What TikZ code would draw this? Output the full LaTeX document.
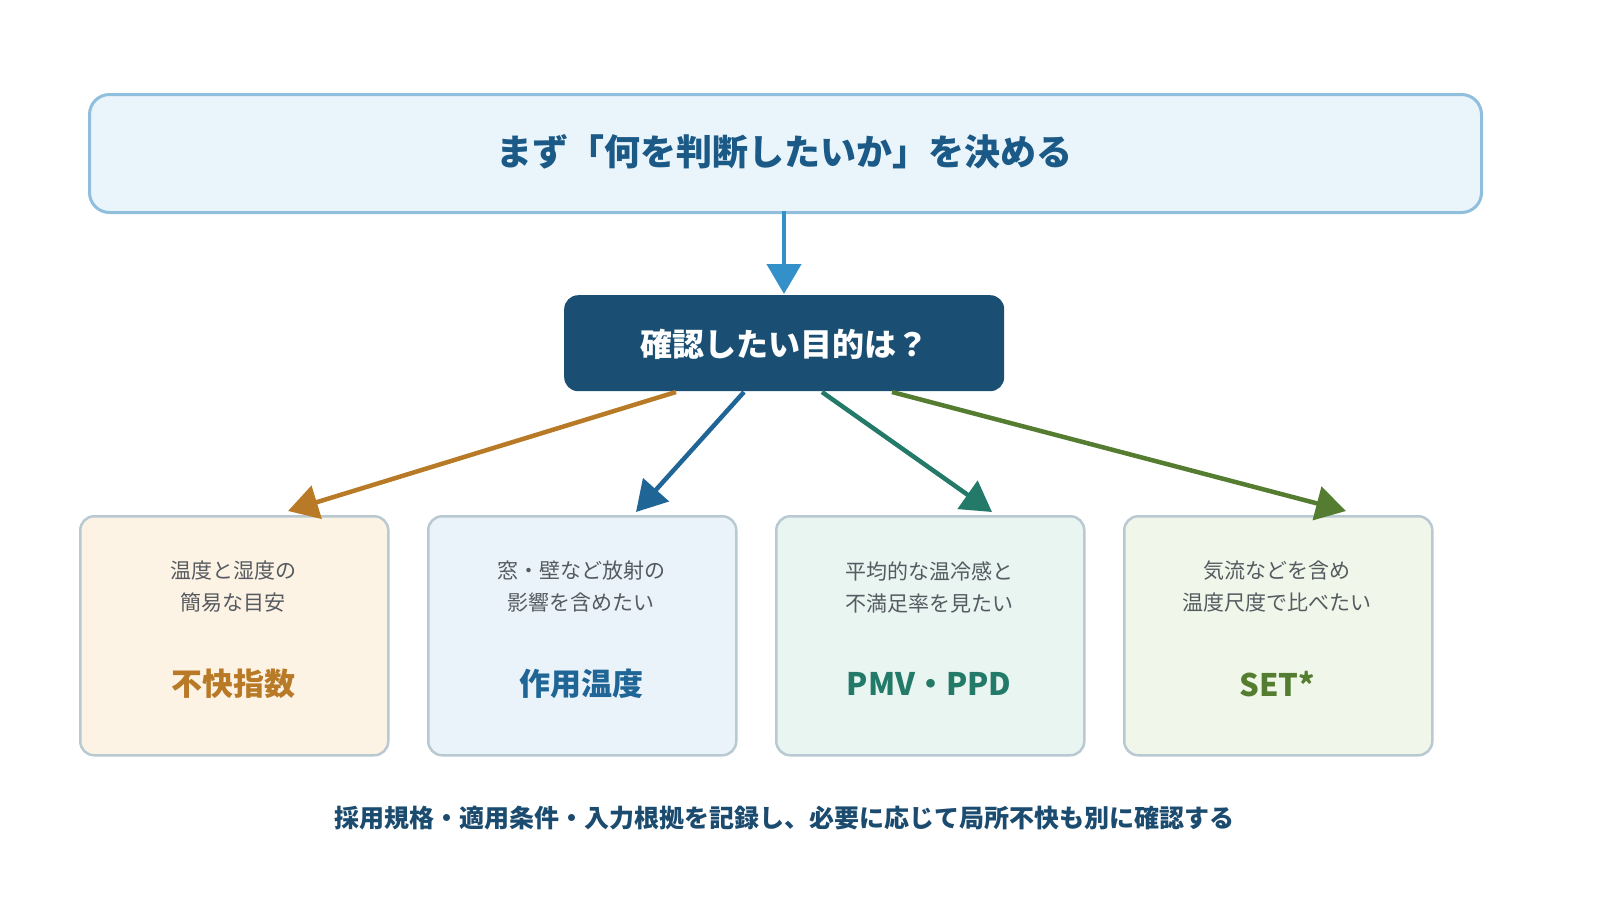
\documentclass[tikz,border=0pt]{standalone}
\usepackage{fontspec}
\setmainfont{Noto Sans CJK JP}
\usetikzlibrary{arrows.meta}
\definecolor{topfill}{HTML}{EAF4FB}
\definecolor{topdraw}{HTML}{8FBFDD}
\definecolor{toptext}{HTML}{1B5A87}
\definecolor{arrA}{HTML}{3390C9}
\definecolor{midfill}{HTML}{1A4F73}
\definecolor{cA}{HTML}{B87A26}
\definecolor{cB}{HTML}{1F6595}
\definecolor{cC}{HTML}{247A68}
\definecolor{cD}{HTML}{557D31}
\definecolor{fA}{HTML}{FDF3E4}
\definecolor{fB}{HTML}{EAF3FA}
\definecolor{fC}{HTML}{E8F5F1}
\definecolor{fD}{HTML}{F1F6EA}
\definecolor{bord}{HTML}{B9C9D2}
\definecolor{small}{HTML}{555B60}
\definecolor{foot}{HTML}{1B4B6E}
\tikzset{
 x=1pt,y=-1pt,
 card/.style={draw=bord,line width=2.5pt,rounded corners=14pt,minimum width=308pt,minimum height=239pt,anchor=north west},
 conn/.style={line width=4.5pt,-{Triangle[length=30pt,width=34pt]}},
 desc/.style={text=small,font=\fontsize{21}{32}\selectfont,align=center},
 ttl/.style={font=\bfseries\fontsize{31}{36}\selectfont}
}
\begin{document}%
\begin{tikzpicture}%
\node[draw=topdraw,fill=topfill,line width=3pt,rounded corners=20pt,minimum width=1392pt,minimum height=118pt,anchor=north west] (top) at (88,93) {};
\node[text=toptext,font=\bfseries\fontsize{36}{40}\selectfont] at (784,152) {まず「何を判断したいか」を決める};
\node[fill=midfill,rounded corners=14pt,minimum width=440pt,minimum height=96pt,anchor=north west] (mid) at (564,295) {};
\node[text=white,font=\bfseries\fontsize{32}{36}\selectfont] at (784,344) {確認したい目的は？};
\coordinate (t1) at (784,211); \coordinate (t2) at (784,294);
\draw[conn,arrA] (t1) -- (t2);
\node[card,fill=fA] (b1) at (79,515) {};
\node[card,fill=fB] (b2) at (427,515) {};
\node[card,fill=fC] (b3) at (775,515) {};
\node[card,fill=fD] (b4) at (1123,515) {};
\coordinate (m1) at (676,392); \coordinate (e1) at (288,511);
\coordinate (m2) at (744,392); \coordinate (e2) at (636,512);
\coordinate (m3) at (822,392); \coordinate (e3) at (992,512);
\coordinate (m4) at (892,392); \coordinate (e4) at (1346,511);
\draw[conn,cA] (m1) -- (e1);
\draw[conn,cB] (m2) -- (e2);
\draw[conn,cC] (m3) -- (e3);
\draw[conn,cD] (m4) -- (e4);
\node[desc] at (233,587) {温度と湿度の\\簡易な目安};
\node[desc] at (581,587) {窓・壁など放射の\\影響を含めたい};
\node[desc] at (929,587) {平均的な温冷感と\\不満足率を見たい};
\node[desc] at (1277,587) {気流などを含め\\温度尺度で比べたい};
\node[ttl,text=cA] at (233,684) {不快指数};
\node[ttl,text=cB] at (581,684) {作用温度};
\node[ttl,text=cC] at (929,684) {PMV・PPD};
\node[ttl,text=cD] at (1277,684) {SET*};
\node[text=foot,font=\bfseries\fontsize{25}{30}\selectfont] at (784,818) {採用規格・適用条件・入力根拠を記録し、必要に応じて局所不快も別に確認する};
\pgfresetboundingbox
\useasboundingbox (0,0) rectangle (1600,900);
\end{tikzpicture}%
\end{document}
